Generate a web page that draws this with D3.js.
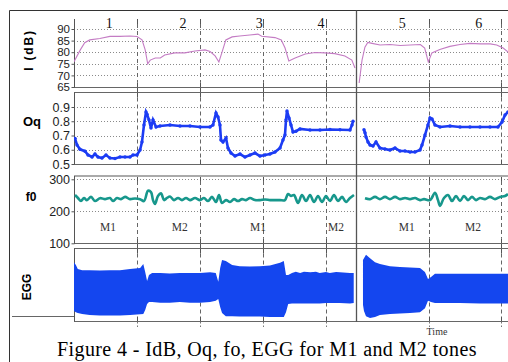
<!DOCTYPE html>
<html>
<head>
<meta charset="utf-8">
<script src="https://cdn.jsdelivr.net/npm/d3@7"></script>
<style>
  body { margin: 0; background: #fff; }
  svg { display: block; }
</style>
</head>
<body>
<svg id="fig" width="508" height="362"></svg>
<script>
// segment numbers and tone names, with their time position (segment units)
const segNumbers = ["1", "2", "3", "4", "5", "6"];
const segNumberAt = [0.56, 1.73, 2.94, 3.92, 0.63, 1.69];
const toneNames = ["M1", "M2", "M1", "M2", "M1", "M2"];
const toneNameAt = [0.54, 1.68, 2.92, 4.16, 0.69, 1.61];

const ticksI = [65, 70, 75, 80, 85, 90];
const ticksOq = [0.5, 0.6, 0.7, 0.8, 0.9];
const ticksF0 = [100, 200, 300];

// I (dB): [time, dB]
const intensityLeft = [[0,75.9],[0.1,81],[0.17,84.1],[0.25,85.3],[0.41,85.9],[0.57,86.8],[0.73,86.8],[0.89,87],[1.0,86.8],[1.08,85.3],[1.13,81],[1.17,75],[1.21,76.6],[1.29,77.5],[1.37,77.5],[1.44,78.8],[1.6,79.7],[1.76,79.7],[1.92,80.5],[2.08,81],[2.16,80.3],[2.24,78.4],[2.3,75.8],[2.35,80],[2.41,85.3],[2.51,86.6],[2.63,87],[2.79,87.4],[2.92,87.8],[2.98,86.9],[3.19,86.3],[3.29,85.3],[3.35,81.8],[3.41,76.2],[3.51,77.5],[3.67,79.2],[3.83,79.9],[3.98,79.7],[4.14,79.4],[4.3,78.4],[4.41,76.6],[4.46,73.2]];
const intensityRight = [[0.03,66.7],[0.07,76.6],[0.11,82.2],[0.15,84.2],[0.21,83.8],[0.32,83.1],[0.46,83.3],[0.6,82.9],[0.74,83.1],[0.88,83.3],[0.94,81.8],[0.99,75.8],[1.04,79.7],[1.15,81.2],[1.29,82.5],[1.43,83.3],[1.57,83.8],[1.71,83.6],[1.85,83.6],[1.94,83.1],[2.03,81.8],[2.1,80]];

// Oq: [time, quotient]
const oqLeft = [[0.016,0.68],[0.048,0.633],[0.095,0.603],[0.175,0.59],[0.222,0.563],[0.286,0.549],[0.333,0.57],[0.381,0.549],[0.444,0.542],[0.508,0.563],[0.571,0.542],[0.651,0.539],[0.73,0.549],[0.81,0.549],[0.889,0.549],[0.937,0.563],[1.0,0.563],[1.048,0.598],[1.079,0.654],[1.111,0.774],[1.143,0.865],[1.159,0.85],[1.19,0.81],[1.222,0.752],[1.254,0.81],[1.302,0.76],[1.365,0.767],[1.524,0.774],[1.683,0.767],[1.841,0.767],[2.0,0.76],[2.159,0.76],[2.206,0.774],[2.254,0.858],[2.286,0.83],[2.317,0.774],[2.333,0.668],[2.365,0.654],[2.413,0.682],[2.444,0.612],[2.492,0.577],[2.556,0.556],[2.635,0.57],[2.714,0.549],[2.794,0.563],[2.873,0.577],[2.952,0.556],[3.032,0.563],[3.111,0.57],[3.19,0.584],[3.27,0.612],[3.317,0.668],[3.349,0.703],[3.365,0.81],[3.381,0.872],[3.413,0.823],[3.444,0.774],[3.476,0.725],[3.524,0.73],[3.587,0.746],[3.746,0.739],[3.905,0.739],[4.063,0.742],[4.222,0.74],[4.381,0.739],[4.413,0.774],[4.429,0.8]];
const oqRight = [[0.097,0.74],[0.111,0.72],[0.125,0.69],[0.153,0.654],[0.181,0.633],[0.222,0.626],[0.264,0.654],[0.319,0.612],[0.389,0.605],[0.458,0.598],[0.528,0.612],[0.597,0.591],[0.667,0.591],[0.736,0.584],[0.806,0.584],[0.875,0.598],[0.903,0.633],[0.944,0.703],[0.986,0.774],[1.014,0.823],[1.042,0.816],[1.083,0.774],[1.153,0.76],[1.292,0.767],[1.431,0.76],[1.569,0.76],[1.708,0.76],[1.847,0.76],[1.958,0.76],[2.014,0.795],[2.056,0.844],[2.097,0.865]];

// f0 (Hz): [time, Hz]
const f0Left = [[0.016,251],[0.063,241.6],[0.111,232],[0.159,241.6],[0.206,235],[0.27,245],[0.333,232],[0.413,241],[0.492,238],[0.571,241.6],[0.619,232],[0.683,241.6],[0.746,238],[0.81,245],[0.889,238],[0.968,240],[1.048,238],[1.111,232],[1.175,264],[1.222,260],[1.254,235],[1.286,223],[1.333,248],[1.381,256],[1.429,235],[1.476,241.6],[1.524,246],[1.587,235],[1.651,241.6],[1.714,235],[1.778,241.6],[1.841,235],[1.921,241.6],[2.0,235],[2.063,241.6],[2.127,232],[2.19,245],[2.254,229],[2.302,251],[2.349,226],[2.413,235],[2.476,229],[2.54,238],[2.603,232],[2.667,238],[2.73,235],[2.794,241.6],[2.873,235],[2.952,235],[3.032,237],[3.111,235],[3.19,235],[3.27,235],[3.349,235],[3.397,254],[3.444,248],[3.492,251],[3.556,226],[3.619,251],[3.683,232],[3.746,251],[3.81,229],[3.873,248],[3.937,229],[4.0,248],[4.063,232],[4.127,251],[4.19,232],[4.254,245],[4.317,229],[4.381,241.6],[4.444,251]];
const f0Right = [[0.111,240.6],[0.181,238],[0.25,245],[0.319,238],[0.389,245],[0.458,238],[0.528,245],[0.597,238],[0.667,241.6],[0.736,238],[0.806,241.6],[0.875,235],[0.931,238],[1.014,235],[1.083,258],[1.125,235],[1.153,217],[1.208,241.6],[1.264,251],[1.319,232],[1.375,248],[1.431,232],[1.486,248],[1.542,235],[1.597,245],[1.653,235],[1.708,241.6],[1.778,238],[1.847,245],[1.917,238],[1.986,245],[2.056,248],[2.097,254]];

// EGG envelope: [time, upper, lower]
const eggLeft = [[0,0.64,-0.70],[0.03,0.56,-0.73],[0.06,0.45,-0.75],[0.13,0.42,-0.78],[0.25,0.42,-0.81],[0.41,0.41,-0.82],[0.57,0.42,-0.82],[0.73,0.42,-0.82],[0.89,0.45,-0.81],[1.05,0.48,-0.79],[1.1,0.59,-0.78],[1.13,0.37,-0.67],[1.16,0.12,-0.51],[1.19,0.29,-0.45],[1.24,0.34,-0.45],[1.37,0.34,-0.47],[1.52,0.33,-0.47],[1.68,0.34,-0.45],[1.84,0.34,-0.47],[2.0,0.34,-0.47],[2.16,0.36,-0.45],[2.25,0.34,-0.42],[2.29,0.10,-0.37],[2.32,0.48,-0.59],[2.35,0.70,-0.75],[2.41,0.67,-0.84],[2.51,0.56,-0.84],[2.63,0.53,-0.85],[2.79,0.52,-0.85],[2.95,0.53,-0.85],[3.11,0.55,-0.86],[3.27,0.62,-0.86],[3.33,0.67,-0.86],[3.365,0.29,-0.73],[3.4,0.29,-0.51],[3.46,0.34,-0.49],[3.52,0.38,-0.49],[3.59,0.34,-0.49],[3.65,0.38,-0.49],[3.75,0.36,-0.49],[3.84,0.38,-0.49],[3.9,0.34,-0.49],[4.0,0.37,-0.48],[4.06,0.34,-0.48],[4.16,0.37,-0.48],[4.22,0.36,-0.48],[4.38,0.34,-0.49],[4.44,0.34,-0.48]];
const eggRight = [[0.083,0.70,-0.53],[0.097,0.75,-0.70],[0.125,0.84,-0.84],[0.181,0.75,-0.89],[0.25,0.64,-0.86],[0.319,0.59,-0.81],[0.458,0.53,-0.78],[0.597,0.51,-0.77],[0.736,0.49,-0.75],[0.875,0.48,-0.73],[0.944,0.37,-0.62],[0.986,0.18,-0.42],[1.028,0.23,-0.45],[1.083,0.32,-0.48],[1.153,0.32,-0.48],[1.431,0.32,-0.48],[1.708,0.32,-0.49],[1.986,0.32,-0.49],[2.097,0.32,-0.49]];

const svg = d3.select("#fig");
const sans = "'Liberation Sans', Arial, sans-serif";
const serif = "'Liberation Serif', 'Times New Roman', serif";

const xL = d3.scaleLinear().domain([0, 4]).range([74, 326]);
const xR = d3.scaleLinear().domain([0, 2]).range([357, 501]);
const yI = d3.scaleLinear().domain([65, 90]).range([87, 29]);
const yOq = d3.scaleLinear().domain([0.5, 0.9]).range([164, 107]);
const yF0 = d3.scaleLinear().domain([100, 300]).range([243.3, 179.3]);
const yEgg = d3.scaleLinear().domain([-1, 1]).range([322, 249]);

const panels = [
  {top: 19, bottom: 87.5},
  {top: 92.5, bottom: 164.5},
  {top: 176, bottom: 243.5},
  {top: 248.5, bottom: 321.5}
];

const defs = svg.append("defs");
defs.append("clipPath").attr("id", "clipL").append("rect")
  .attr("x", 74).attr("y", 0).attr("width", 282.5).attr("height", 362);
defs.append("clipPath").attr("id", "clipR").append("rect")
  .attr("x", 357).attr("y", 0).attr("width", 151).attr("height", 362);

// dotted grid lines
function grid(scale, values) {
  values.forEach(v => {
    [[74, 356], [360, 508]].forEach(([a, b]) => {
      svg.append("line")
        .attr("x1", a).attr("x2", b)
        .attr("y1", Math.round(scale(v)) + 0.5).attr("y2", Math.round(scale(v)) + 0.5)
        .attr("stroke", "#8a8a8a").attr("stroke-dasharray", "1,2");
    });
  });
}
grid(yI, [70, 75, 80, 85, 90]);
grid(yOq, [0.6, 0.7, 0.8, 0.9]);
grid(yF0, [200, 300]);

// segment boundaries
const bounds = [1, 2, 3, 4].map(xL).concat([1, 2].map(xR)).map(v => Math.round(v) + 0.5);
bounds.forEach(bx => {
  panels.forEach(p => {
    svg.append("line").attr("x1", bx).attr("x2", bx)
      .attr("y1", p.top + 5).attr("y2", p.bottom - 5)
      .attr("stroke", "#666").attr("stroke-dasharray", "4,3");
    svg.append("line").attr("x1", bx).attr("x2", bx)
      .attr("y1", p.top).attr("y2", p.top + 5).attr("stroke", "#555");
    svg.append("line").attr("x1", bx).attr("x2", bx)
      .attr("y1", p.bottom - 5).attr("y2", p.bottom).attr("stroke", "#555");
  });
  [[87.5, 92.5], [243.5, 248.5]].forEach(([a, b]) => {
    svg.append("line").attr("x1", bx).attr("x2", bx)
      .attr("y1", a).attr("y2", b).attr("stroke", "#555");
  });
  svg.append("line").attr("x1", bx).attr("x2", bx)
    .attr("y1", 321.5).attr("y2", 327).attr("stroke", "#777").attr("stroke-dasharray", "2,2");
});

// panel borders
panels.forEach((p, i) => {
  if (i > 0) {
    svg.append("line").attr("x1", 74).attr("x2", 508)
      .attr("y1", p.top).attr("y2", p.top)
      .attr("stroke", i === 2 ? "#aaa" : "#666").attr("stroke-width", i === 2 ? 2 : 1);
  }
  svg.append("line").attr("x1", 74).attr("x2", 508)
    .attr("y1", p.bottom).attr("y2", p.bottom).attr("stroke", "#666");
  svg.append("line").attr("x1", 74.5).attr("x2", 74.5)
    .attr("y1", p.top).attr("y2", p.bottom).attr("stroke", "#555");
});

// data
const gL = svg.append("g").attr("clip-path", "url(#clipL)");
const gR = svg.append("g").attr("clip-path", "url(#clipR)");

function drawSide(g, x, intensity, oq, f0, egg) {
  g.append("path").datum(egg)
    .attr("d", d3.area().x(d => x(d[0])).y0(d => yEgg(d[2])).y1(d => yEgg(d[1])))
    .attr("fill", "#1446ef");
  g.append("path").datum(intensity)
    .attr("d", d3.line().x(d => x(d[0])).y(d => yI(d[1])))
    .attr("fill", "none").attr("stroke", "#c47cc4").attr("stroke-width", 1.1);
  g.append("path").datum(oq)
    .attr("d", d3.line().x(d => x(d[0])).y(d => yOq(d[1])))
    .attr("fill", "none").attr("stroke", "#1c3cf4").attr("stroke-width", 2.6);
  g.selectAll(null).data(oq).enter().append("circle")
    .attr("cx", d => x(d[0])).attr("cy", d => yOq(d[1])).attr("r", 1.7)
    .attr("fill", "#1c3cf4");
  g.append("path").datum(f0)
    .attr("d", d3.line().curve(d3.curveCatmullRom).x(d => x(d[0])).y(d => yF0(d[1])))
    .attr("fill", "none").attr("stroke", "#17978c").attr("stroke-width", 2.6);
}
drawSide(gL, xL, intensityLeft, oqLeft, f0Left, eggLeft);
drawSide(gR, xR, intensityRight, oqRight, f0Right, eggRight);

// y axes
function yAxis(scale, values, fmt, size) {
  const ax = svg.append("g").attr("transform", "translate(74.5,0)")
    .call(d3.axisLeft(scale).tickValues(values).tickFormat(fmt)
      .tickSize(3).tickSizeOuter(0).tickPadding(1.5));
  ax.select(".domain").remove();
  ax.selectAll("line").attr("stroke", "#555");
  ax.selectAll("text").attr("font-family", sans).attr("font-size", size).attr("fill", "#222");
}
yAxis(yI, ticksI, d3.format("d"), 11.5);
yAxis(yOq, ticksOq, d3.format(".1f"), 12.5);
yAxis(yF0, ticksF0, d3.format("d"), 12.5);

// panel titles
svg.append("text").attr("transform", "translate(33,50) rotate(-90)")
  .attr("text-anchor", "middle").attr("font-family", sans).attr("font-weight", "bold")
  .attr("font-size", 12).attr("letter-spacing", 1.8).text("I (dB)");
svg.append("text").attr("x", 32).attr("y", 126)
  .attr("text-anchor", "middle").attr("font-family", sans).attr("font-weight", "bold")
  .attr("font-size", 13).text("Oq");
svg.append("text").attr("x", 31).attr("y", 201)
  .attr("text-anchor", "middle").attr("font-family", sans).attr("font-weight", "bold")
  .attr("font-size", 12).text("f0");
svg.append("text").attr("transform", "translate(31,287) rotate(-90)")
  .attr("text-anchor", "middle").attr("font-family", sans).attr("font-weight", "bold")
  .attr("font-size", 12).text("EGG");

// segment numbers and tone names
segNumbers.forEach((s, i) => {
  const x = i < 4 ? xL : xR;
  svg.append("text").attr("x", x(segNumberAt[i])).attr("y", 28)
    .attr("text-anchor", "middle").attr("font-family", serif).attr("font-size", 14)
    .attr("fill", "#111").text(s);
});
toneNames.forEach((s, i) => {
  const x = i < 4 ? xL : xR;
  svg.append("text").attr("x", x(toneNameAt[i])).attr("y", 231)
    .attr("text-anchor", "middle").attr("font-family", serif).attr("font-size", 11.5)
    .attr("fill", "#333").text(s);
});

svg.append("text").attr("x", 437).attr("y", 335)
  .attr("text-anchor", "middle").attr("font-family", serif).attr("font-size", 10)
  .attr("fill", "#333").text("Time");

// frame
svg.append("line").attr("x1", 9.5).attr("x2", 508).attr("y1", 10.5).attr("y2", 10.5).attr("stroke", "#333");
svg.append("line").attr("x1", 9.5).attr("x2", 9.5).attr("y1", 10.5).attr("y2", 362).attr("stroke", "#333");
svg.append("line").attr("x1", 12).attr("x2", 74).attr("y1", 316.5).attr("y2", 316.5).attr("stroke", "#666");
svg.append("line").attr("x1", 356.5).attr("x2", 356.5).attr("y1", 10.5).attr("y2", 322).attr("stroke", "#555").attr("stroke-width", 1.3);

// caption
svg.append("text").attr("x", 57).attr("y", 356)
  .attr("font-family", serif).attr("font-size", 20).attr("letter-spacing", 0.4).attr("fill", "#000")
  .text("Figure 4 - IdB, Oq, fo, EGG for M1 and M2 tones");
</script>
</body>
</html>
